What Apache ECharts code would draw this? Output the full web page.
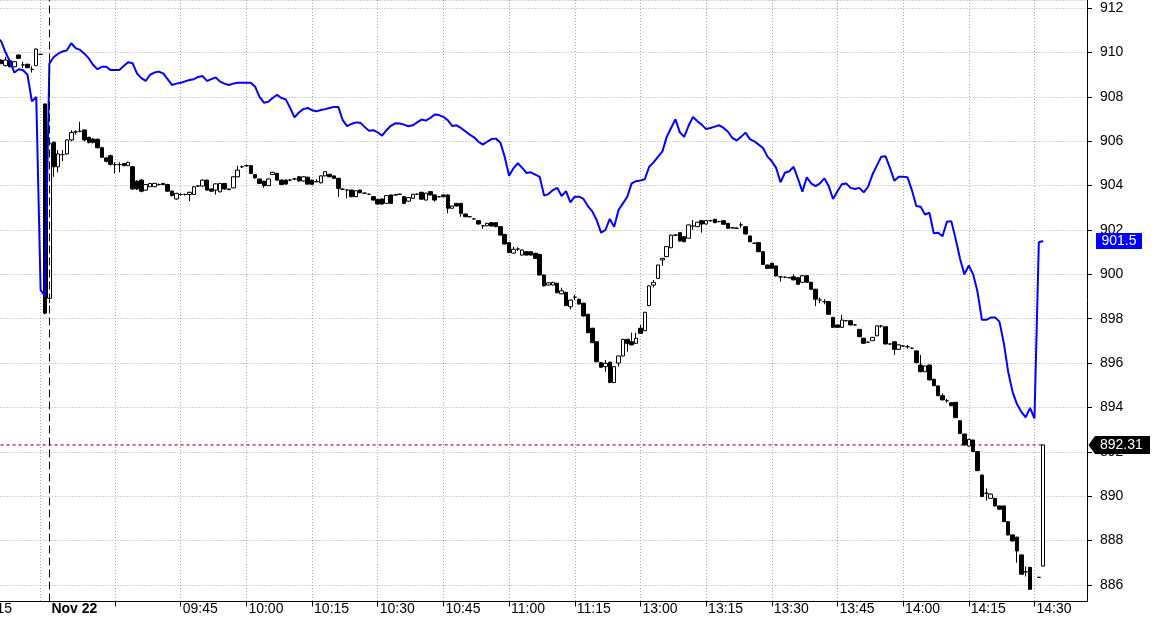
<!DOCTYPE html>
<html><head><meta charset="utf-8">
<script src="https://cdn.jsdelivr.net/npm/echarts@6.0.0/dist/echarts.min.js"></script>
<style>html,body{margin:0;padding:0;background:#fff}#c{width:1157px;height:618px}</style>
</head><body><div id="c"></div>
<script>
// ---------- categories (1-minute bars) ----------
function minutes(start, count) {
  const p = start.split(':').map(Number); const t0 = p[0] * 60 + p[1]; const out = [];
  for (let i = 0; i < count; i++) { const t = t0 + i; out.push(String(Math.floor(t / 60)).padStart(2, '0') + ':' + String(t % 60).padStart(2, '0')); }
  return out;
}
const prevTimes = minutes('15:14', 17);   // previous session tail
const amTimes = minutes('09:14', 136);    // Nov 22 morning
const pmTimes = minutes('13:00', 103);    // Nov 22 afternoon
const categories = prevTimes.concat(amTimes, pmTimes);

// ---------- x-axis ticks / labels ----------
const xLabelCats  = ['15:15', '09:15', '09:45', '10:00', '10:15', '10:30', '10:45', '11:00', '11:15', '13:00', '13:15', '13:30', '13:45', '14:00', '14:15', '14:30'];
const xLabelTexts = ['15:15', 'Nov 22', '09:45', '10:00', '10:15', '10:30', '10:45', '11:00', '11:15', '13:00', '13:15', '13:30', '13:45', '14:00', '14:15', '14:30'];
const xTickCats   = ['15:15', '09:30', '09:45', '10:00', '10:15', '10:30', '10:45', '11:00', '11:15', '13:00', '13:15', '13:30', '13:45', '14:00', '14:15', '14:30'];
const xGridCats   = ['15:30', '09:30', '09:45', '10:00', '10:15', '10:30', '10:45', '11:00', '11:15', '13:00', '13:15', '13:30', '13:45', '14:00', '14:15', '14:30'];
const dayBreakCat = '09:15';

// ---------- y axis ----------
const yMin = 885.25, yMax = 912.37;

// ---------- futures 1-min candles [open, close, low, high] ----------
const prevOHLC = [null, null, null, null, null, null, null,
  [909.66, 909.5, 909.48, 909.7], [909.41, 909.66, 909.38, 909.81], [909.63, 909.36, 909.33, 909.66],
  [909.36, 909.59, 909.34, 909.62], [909.89, 909.74, 909.72, 909.91], [909.44, 909.44, 909.3, 909.58],
  [909.47, 909.32, 909.3, 909.5], [909.24, 909.24, 909.1, 909.38], [909.41, 910.16, 909.4, 910.18],
  [909.92, 909.92, 909.92, 909.92]];
const amOHLC = [
  [907.68, 898.25, 898.2, 907.7], [898.92, 905.91, 898.7, 905.95], [905.95, 904.85, 904.4, 906.0], [904.85, 905.43, 904.6, 905.6],
  [905.4, 905.4, 905.1, 905.6], [905.43, 906.06, 905.4, 906.1], [906.06, 906.39, 906.0, 906.5], [906.42, 906.42, 906.3, 906.5],
  [906.45, 906.45, 906.4, 906.88], [906.51, 906.06, 906.0, 906.55], [906.18, 905.95, 905.9, 906.2], [906.1, 905.95, 905.9, 906.15],
  [906.09, 905.71, 905.68, 906.12], [905.71, 905.28, 905.25, 905.75], [905.25, 905.1, 905.05, 905.3], [905.35, 904.96, 904.9, 905.4],
  [904.95, 904.95, 904.55, 905.05], [904.95, 904.95, 904.6, 905.05], [905.0, 904.9, 904.88, 905.02], [904.9, 905.05, 904.88, 905.08],
  [904.85, 903.85, 903.8, 904.88], [904.2, 903.85, 903.8, 904.25], [904.25, 903.75, 903.7, 904.3], [903.8, 904.05, 903.78, 904.08],
  [903.95, 904.1, 903.93, 904.12], [903.95, 904.1, 903.93, 904.12], [904.05, 904.05, 904.0, 904.1], [904.1, 904.05, 904.02, 904.12],
  [904.05, 903.75, 903.72, 904.08], [903.75, 903.55, 903.52, 903.78], [903.4, 903.65, 903.37, 903.68], [903.6, 903.6, 903.55, 903.65],
  [903.6, 903.6, 903.55, 903.65], [903.6, 903.7, 903.3, 903.72], [903.6, 903.95, 903.58, 903.98], [903.98, 903.98, 903.95, 904.02],
  [903.98, 904.25, 903.95, 904.28], [904.25, 903.8, 903.78, 904.28], [903.85, 903.75, 903.72, 903.88], [903.8, 904.08, 903.6, 904.1],
  [903.72, 904.1, 903.7, 904.12], [904.1, 903.85, 903.82, 904.12], [903.85, 903.82, 903.8, 903.87], [903.9, 904.4, 903.88, 904.42],
  [904.4, 904.7, 904.38, 904.9], [904.85, 904.85, 904.8, 904.9], [904.9, 904.9, 904.85, 904.95], [904.9, 904.55, 904.52, 904.92],
  [904.5, 904.35, 904.32, 904.52], [904.3, 904.1, 904.08, 904.32], [904.2, 904.0, 903.9, 904.22], [904.0, 904.3, 903.98, 904.32],
  [904.5, 904.6, 904.48, 904.62], [904.55, 904.25, 904.22, 904.58], [904.25, 904.05, 904.02, 904.28], [904.25, 904.07, 904.05, 904.28],
  [904.25, 904.25, 904.2, 904.3], [904.3, 904.3, 904.25, 904.35], [904.4, 904.21, 904.18, 904.42], [904.21, 904.4, 904.18, 904.42],
  [904.38, 904.07, 904.05, 904.4], [904.25, 904.06, 904.04, 904.27], [904.18, 904.18, 904.15, 904.29], [904.13, 904.44, 904.1, 904.46],
  [904.44, 904.63, 904.42, 904.65], [904.51, 904.4, 904.38, 904.53], [904.44, 904.33, 904.31, 904.46], [904.33, 903.88, 903.5, 904.35],
  [903.84, 903.84, 903.8, 903.88], [903.8, 903.8, 903.43, 903.84], [903.8, 903.5, 903.48, 903.82], [903.5, 903.77, 903.48, 903.79],
  [903.8, 903.68, 903.66, 903.82], [903.66, 903.66, 903.63, 903.69], [903.61, 903.61, 903.58, 903.64], [903.5, 903.35, 903.33, 903.52],
  [903.38, 903.17, 903.15, 903.4], [903.4, 903.17, 903.15, 903.42], [903.2, 903.55, 903.18, 903.57], [903.58, 903.2, 903.18, 903.6],
  [903.58, 903.58, 903.55, 903.61], [903.61, 903.61, 903.58, 903.64], [903.5, 903.2, 903.18, 903.52], [903.3, 903.46, 903.28, 903.48],
  [903.43, 903.61, 903.41, 903.63], [903.61, 903.61, 903.58, 903.64], [903.7, 903.39, 903.37, 903.72], [903.35, 903.66, 903.33, 903.68],
  [903.73, 903.58, 903.56, 903.75], [903.58, 903.35, 903.28, 903.6], [903.5, 903.5, 903.47, 903.53], [903.58, 903.5, 903.48, 903.6],
  [903.58, 902.98, 902.75, 903.6], [902.98, 903.08, 902.96, 903.1], [903.2, 903.08, 903.06, 903.22], [903.2, 902.75, 902.6, 903.22],
  [902.72, 902.6, 902.58, 902.74], [902.6, 902.6, 902.57, 902.63], [902.5, 902.5, 902.47, 902.53], [902.42, 902.27, 902.25, 902.44],
  [902.19, 902.19, 902.05, 902.22], [902.19, 902.3, 902.17, 902.32], [902.33, 902.18, 902.16, 902.35], [902.33, 902.15, 902.13, 902.35],
  [902.15, 901.77, 901.75, 902.17], [901.8, 901.37, 901.35, 901.82], [901.43, 900.98, 900.96, 901.45], [900.96, 901.13, 900.94, 901.25],
  [901.14, 901.14, 901.05, 901.22], [900.87, 901.1, 900.85, 901.12], [901.02, 900.87, 900.85, 901.04], [901.02, 900.87, 900.85, 901.04],
  [900.95, 900.72, 900.7, 900.97], [900.9, 899.97, 899.95, 900.92], [899.97, 899.48, 899.46, 899.99], [899.52, 899.62, 899.5, 899.64],
  [899.52, 899.64, 899.5, 899.66], [899.6, 899.17, 899.15, 899.62], [899.12, 899.26, 899.1, 899.4], [899.19, 898.59, 898.57, 899.21],
  [898.54, 898.84, 898.42, 898.86], [898.97, 898.97, 898.84, 899.07], [898.88, 898.66, 898.64, 898.9], [898.7, 898.12, 898.1, 898.72],
  [898.2, 897.37, 897.35, 898.22], [897.57, 896.92, 896.9, 897.59], [896.96, 896.06, 896.04, 896.98], [896.02, 895.81, 895.79, 896.04],
  [895.84, 895.99, 895.61, 896.14], [896.04, 895.12, 895.1, 896.06], [895.12, 895.84, 895.1, 895.86], [896.0, 896.32, 895.84, 896.34],
  [896.32, 897.07, 896.3, 897.09], [897.07, 896.89, 896.51, 897.09], [896.96, 896.82, 896.8, 897.37], [896.89, 897.12, 896.87, 897.37]];
const pmOHLC = [
  [897.57, 897.34, 897.32, 897.72], [897.46, 898.29, 897.44, 898.31], [898.59, 899.48, 898.57, 899.5], [899.52, 899.64, 899.42, 899.75],
  [899.82, 900.42, 899.8, 900.44], [900.65, 900.72, 900.38, 900.74], [900.8, 901.25, 900.78, 901.27], [901.2, 901.77, 901.18, 901.79],
  [901.77, 901.77, 901.74, 901.8], [901.88, 901.5, 901.48, 901.9], [901.7, 901.47, 901.45, 901.72], [901.63, 902.23, 901.61, 902.25],
  [902.18, 902.18, 902.0, 902.45], [902.15, 902.35, 902.13, 902.37], [902.42, 902.27, 901.88, 902.44], [902.27, 902.42, 902.25, 902.44],
  [902.42, 902.42, 902.39, 902.45], [902.48, 902.33, 902.31, 902.5], [902.38, 902.38, 902.35, 902.41], [902.42, 902.26, 902.24, 902.44],
  [902.3, 902.08, 902.06, 902.32], [902.1, 902.1, 902.07, 902.13], [902.08, 902.08, 902.05, 902.11], [902.23, 902.23, 902.1, 902.35],
  [902.15, 901.82, 901.8, 902.17], [901.73, 901.47, 901.45, 901.75], [901.4, 901.4, 901.37, 901.43], [901.43, 901.02, 901.0, 901.45],
  [901.02, 900.45, 900.43, 901.04], [900.42, 900.27, 900.25, 900.44], [900.5, 900.27, 900.25, 900.52], [900.38, 899.93, 899.91, 900.4],
  [899.89, 899.89, 899.67, 899.92], [899.87, 899.87, 899.84, 899.9], [899.85, 899.85, 899.82, 899.88], [899.89, 899.75, 899.73, 900.0],
  [899.85, 899.55, 899.53, 899.87], [899.64, 899.94, 899.62, 899.96], [899.94, 899.64, 899.62, 899.96], [899.64, 899.33, 899.31, 899.66],
  [899.33, 898.88, 898.57, 899.35], [898.84, 898.84, 898.7, 898.95], [898.77, 898.77, 898.65, 898.88], [898.77, 898.2, 898.18, 898.79],
  [898.06, 897.61, 897.59, 898.08], [897.72, 897.61, 897.59, 897.74], [897.61, 897.94, 897.59, 898.17], [897.91, 897.91, 897.88, 897.94],
  [897.91, 897.72, 897.7, 897.93], [897.72, 897.72, 897.69, 897.75], [897.52, 897.19, 897.17, 897.54], [897.12, 896.89, 896.87, 897.14],
  [896.94, 896.94, 896.91, 896.97], [897.01, 897.16, 896.99, 897.18], [897.23, 897.68, 897.21, 897.7], [897.67, 897.67, 897.6, 897.72],
  [897.64, 896.86, 896.84, 897.66], [896.86, 896.86, 896.83, 896.89], [896.96, 896.62, 896.37, 896.98], [896.62, 896.82, 896.6, 896.84],
  [896.77, 896.77, 896.74, 896.8], [896.74, 896.74, 896.65, 896.82], [896.67, 896.67, 896.64, 896.7], [896.55, 896.02, 896.0, 896.57],
  [895.91, 895.61, 895.59, 896.37], [895.61, 895.87, 895.59, 895.89], [895.91, 895.24, 895.22, 895.93], [895.27, 894.98, 894.96, 895.29],
  [894.97, 894.53, 894.51, 894.99], [894.53, 894.34, 894.32, 894.64], [894.3, 894.3, 894.22, 894.38], [894.21, 894.08, 894.06, 894.23],
  [894.23, 893.54, 893.52, 894.25], [893.4, 892.83, 892.81, 893.42], [892.8, 892.31, 892.29, 892.82], [892.26, 892.56, 892.24, 892.58],
  [892.53, 892.01, 891.99, 892.55], [892.01, 891.15, 891.13, 892.03], [890.95, 889.98, 889.96, 890.97], [890.13, 890.13, 889.8, 890.35],
  [889.9, 890.09, 889.88, 890.11], [889.9, 889.56, 889.54, 889.92], [889.56, 889.41, 889.39, 889.58], [889.56, 888.85, 888.83, 889.58],
  [888.85, 888.25, 888.23, 888.87], [888.25, 887.98, 887.96, 888.27], [888.15, 887.53, 887.0, 888.17], [887.35, 886.48, 886.46, 887.37],
  [886.59, 886.59, 886.38, 886.83], [886.79, 885.8, 885.78, 886.81], null, [886.34, 886.34, 886.34, 886.34],
  [886.85, 892.31, 886.83, 892.33], null, null, null, null, null, null, null, null, null, null];

// ---------- index line (blue) ----------
const prevIdx = [null, null, null, null, null, null, 910.7, 910.5, 910.0, 909.6, 909.1, 909.25, 909.2, 909.0, 907.8, 908.0, 899.3];
const amIdx = [
  899.0, 909.5, 909.8, 909.95, 910.05, 910.1, 910.42, 910.2, 910.12, 909.95, 909.74, 909.44, 909.25, 909.36, 909.36, 909.21,
  909.21, 909.21, 909.4, 909.56, 909.52, 909.06, 908.85, 908.72, 909.0, 909.1, 909.14, 909.06, 908.8, 908.54, 908.6, 908.64,
  908.7, 908.76, 908.8, 908.9, 908.94, 908.72, 908.8, 908.88, 908.69, 908.6, 908.54, 908.6, 908.64, 908.64, 908.64, 908.64,
  908.46, 908.0, 907.74, 907.78, 907.95, 908.09, 907.95, 907.89, 907.5, 907.08, 907.3, 907.45, 907.5, 907.4, 907.35, 907.41,
  907.45, 907.5, 907.55, 907.55, 906.95, 906.68, 906.78, 906.85, 906.84, 906.65, 906.47, 906.5, 906.4, 906.25, 906.5, 906.7,
  906.81, 906.8, 906.75, 906.68, 906.72, 906.85, 906.98, 906.93, 907.05, 907.21, 907.18, 907.1, 906.95, 906.69, 906.72, 906.6,
  906.45, 906.3, 906.18, 905.98, 905.85, 905.98, 906.1, 906.12, 905.95, 905.3, 904.45, 904.78, 905.01, 904.8, 904.57, 904.6,
  904.5, 904.4, 903.55, 903.62, 903.8, 903.9, 903.53, 903.75, 903.25, 903.5, 903.5, 903.4, 903.08, 902.84, 902.45, 901.88,
  902.0, 902.5, 902.15, 902.9, 903.2, 903.5, 904.1, 904.2];
const pmIdx = [
  904.23, 904.29, 904.85, 905.05, 905.3, 905.53, 906.2, 906.6, 906.99, 906.4, 906.2, 906.7, 907.1, 906.9, 906.75, 906.55,
  906.6, 906.66, 906.72, 906.6, 906.43, 906.15, 906.03, 906.2, 906.39, 906.1, 906.0, 905.85, 905.7, 905.32, 905.1, 904.8,
  904.15, 904.58, 904.65, 904.85, 904.3, 903.73, 904.38, 904.1, 903.98, 904.1, 904.33, 903.98, 903.4, 903.75, 904.06, 904.1,
  903.9, 903.85, 903.9, 903.7, 903.95, 904.5, 904.9, 905.3, 905.32, 904.8, 904.22, 904.4, 904.4, 904.38, 903.8, 903.08,
  903.05, 902.7, 902.78, 901.85, 901.88, 901.72, 902.37, 902.4, 901.6, 900.7, 900.0, 900.4, 900.0, 899.2, 897.95, 897.95,
  898.05, 898.06, 897.87, 896.9, 895.6, 894.7, 894.15, 893.8, 893.55, 893.98, 893.5, 901.45, 901.5,
  null, null, null, null, null, null, null, null, null, null];

// ---------- assemble ----------
const allOHLC = prevOHLC.concat(amOHLC, pmOHLC);
const allIdx = prevIdx.concat(amIdx, pmIdx);
const futData = allOHLC.map(d => d ? d : ['-', '-', '-', '-']);
const idxData = allIdx.map(v => v === null ? '-' : v);
let lastFutIdx = 0; allOHLC.forEach((d, i) => { if (d) lastFutIdx = i; });
const lastFut = allOHLC[lastFutIdx][1];
let lastIdxVal = null; allIdx.forEach(v => { if (v !== null) lastIdxVal = v; });
// last-price reference line: from the first category to the last bar, at the last close
const lastPriceLine = [[0, lastFut], [lastFutIdx, lastFut]];

const labelMap = {}; xLabelCats.forEach((c, k) => { labelMap[categories.indexOf(c)] = xLabelTexts[k]; });
const tickSet = new Set(xTickCats.map(c => categories.indexOf(c)));
const gridSet = new Set(xGridCats.map(c => categories.indexOf(c)));

const FONT = '"Liberation Sans", Arial, sans-serif';
const RED = '#cc0018';
const chart = echarts.init(document.getElementById('c'), null, { renderer: 'canvas' });
chart.setOption({
  animation: false,
  backgroundColor: '#fff',
  textStyle: { fontFamily: FONT },
  grid: { left: -29.43, right: 70, top: 0, bottom: 16.5, containLabel: false, outerBoundsMode: 'none' },
  xAxis: {
    type: 'category', data: categories, boundaryGap: false,
    axisLine: { lineStyle: { color: '#000', width: 1 } },
    axisTick: { show: true, length: 5, lineStyle: { color: '#000' }, interval: (i) => tickSet.has(i) },
    axisLabel: {
      interval: (i) => labelMap[i] !== undefined, align: 'left', margin: 1, padding: [0, 0, 0, 2], hideOverlap: false,
      color: '#000', fontSize: 14, fontFamily: FONT,
      formatter: (v, i) => { const t = labelMap[i]; if (t === undefined) return ''; return t === 'Nov 22' ? '{b|' + t + '}' : t; },
      rich: { b: { fontWeight: 'bold', fontSize: 14, color: '#000', fontFamily: FONT } }
    },
    splitLine: { show: true, interval: (i) => gridSet.has(i), lineStyle: { color: '#a8a8a8', type: [1, 2], width: 1 } }
  },
  yAxis: {
    type: 'value', position: 'right', min: yMin, max: yMax, splitNumber: 13, minInterval: 2, maxInterval: 2, scale: true,
    axisLine: { show: true, lineStyle: { color: '#000', width: 1 } },
    axisTick: { show: true, length: 5, inside: false, lineStyle: { color: '#000' } },
    axisLabel: { margin: 13, color: '#000', fontSize: 14, fontFamily: FONT, showMinLabel: false, showMaxLabel: false,
      formatter: (v) => String(Math.round(v)) },
    splitLine: { show: true, lineStyle: { color: '#a8a8a8', type: [1, 2], width: 1 } }
  },
  series: [
    {
      type: 'line', name: 'Last price', data: lastPriceLine, symbol: 'none', showSymbol: false, z: 1, silent: true,
      color: RED, lineStyle: { color: RED, width: 1.2, type: [3, 3] },
      markLine: {
        silent: true, symbol: ['none', 'none'], label: { show: false }, animation: false,
        data: [{ xAxis: categories.indexOf(dayBreakCat), lineStyle: { color: '#000000', width: 1, type: [8, 4] } }]
      }
    },
    {
      type: 'candlestick', name: 'Futures', data: futData, barWidth: 4, z: 2,
      itemStyle: { color: '#ffffff', color0: '#000000', borderColor: '#000000', borderColor0: '#000000', borderColorDoji: '#000000', borderWidth: 1 }
    },
    {
      type: 'line', name: 'Index', data: idxData, symbol: 'none', showSymbol: false, z: 3,
      color: '#0000ff', lineStyle: { color: '#0000ff', width: 2 }, connectNulls: false
    }
  ]
});

// value tags on the right axis, positioned through the library's scale
const yb = chart.convertToPixel({ yAxisIndex: 0 }, lastIdxVal);
const yf = chart.convertToPixel({ yAxisIndex: 0 }, lastFut);
chart.setOption({
  graphic: [
    { type: 'rect', z: 100, shape: { x: 1096, y: yb - 8, width: 46, height: 16 }, style: { fill: '#0000ff' } },
    { type: 'text', z: 101, x: 1119, y: yb, style: { text: String(lastIdxVal), fill: '#fff', fontSize: 14, fontFamily: FONT, align: 'center', verticalAlign: 'middle' } },
    { type: 'polygon', z: 100, shape: { points: [[1088.5, yf], [1095, yf - 9], [1150, yf - 9], [1150, yf + 9], [1095, yf + 9]] }, style: { fill: '#000' } },
    { type: 'text', z: 101, x: 1100, y: yf, style: { text: String(lastFut), fill: '#fff', fontSize: 14, fontFamily: FONT, align: 'left', verticalAlign: 'middle' } }
  ]
});
</script></body></html>
